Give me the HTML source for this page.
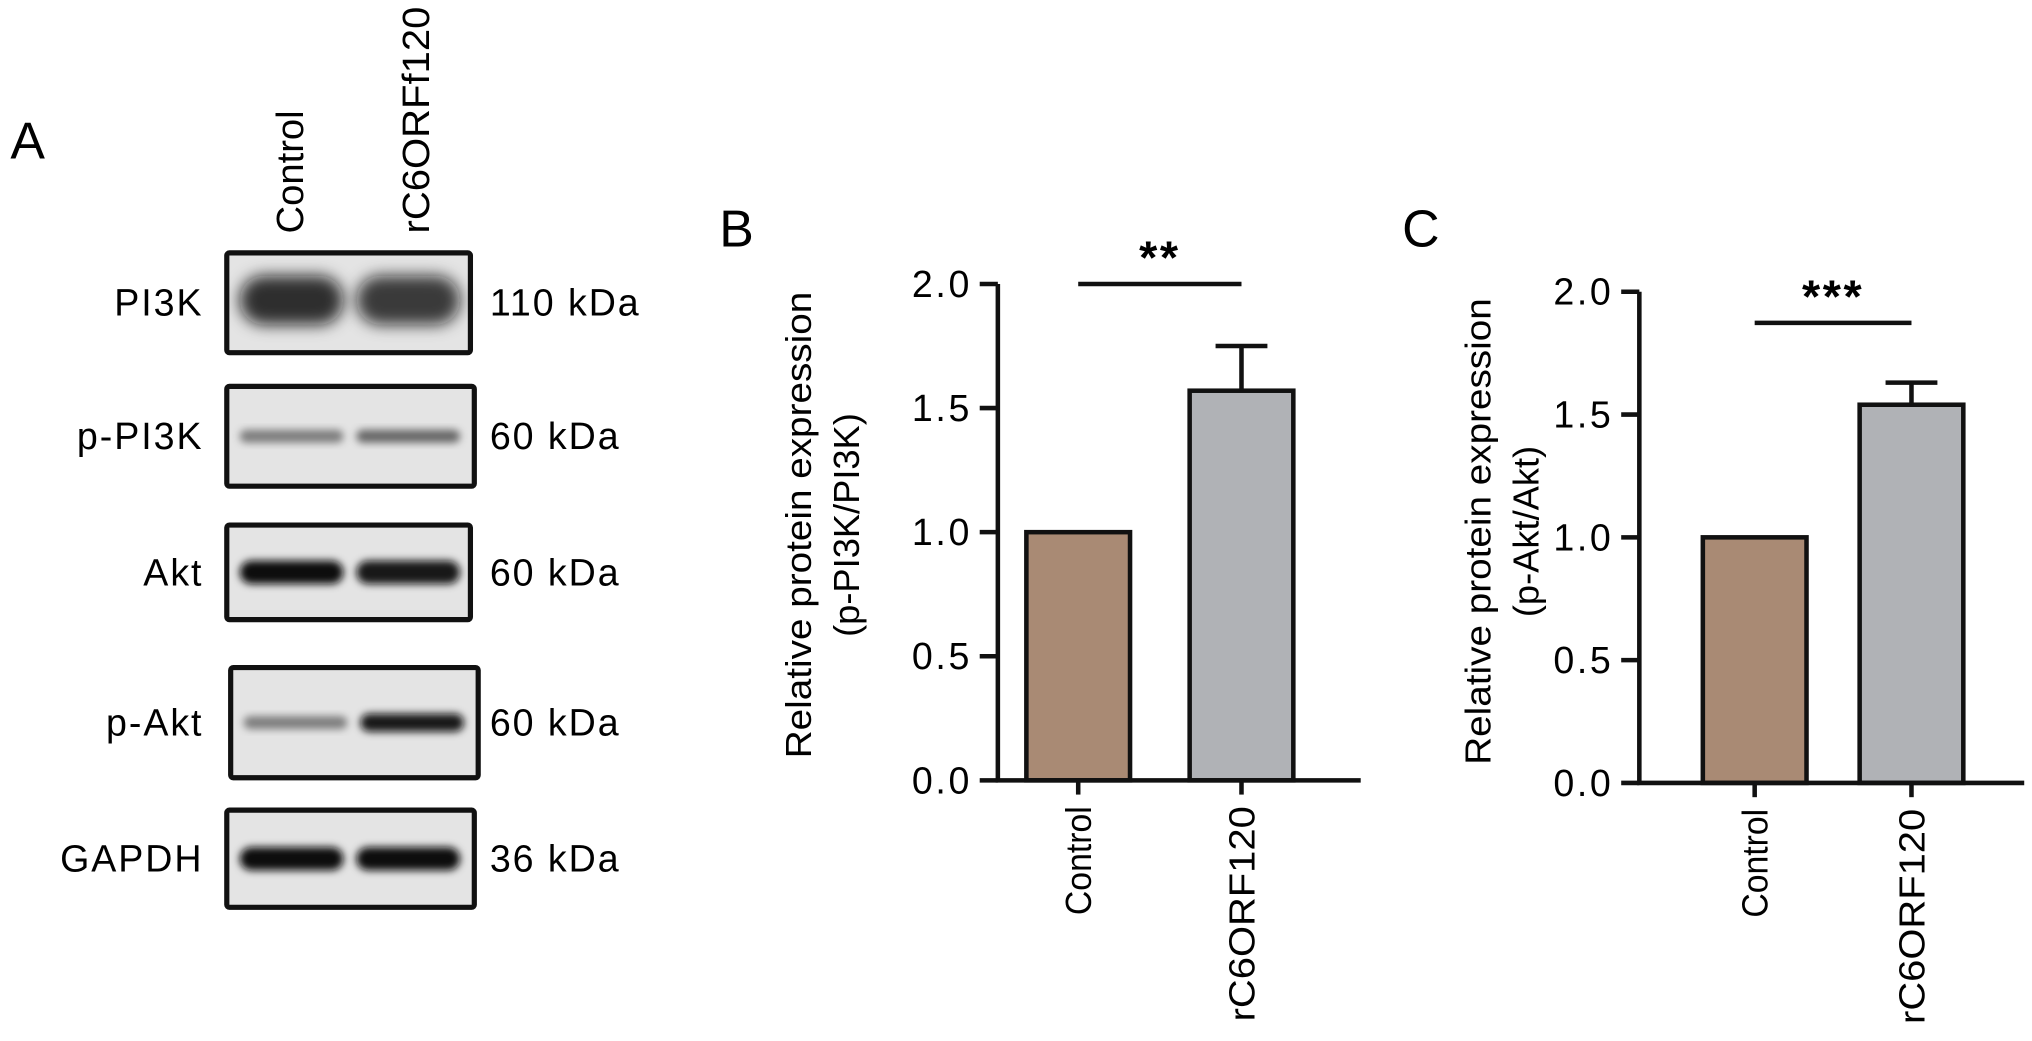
<!DOCTYPE html>
<html><head><meta charset="utf-8"><style>
html,body{margin:0;padding:0;background:#fff;}
svg{display:block;font-family:"Liberation Sans",Arial,sans-serif;}
</style></head><body>
<svg id="fig" width="2032" height="1041" viewBox="0 0 1568 803" xmlns="http://www.w3.org/2000/svg">
<defs>
<filter id="blur3" x="-20%" y="-50%" width="140%" height="200%"><feGaussianBlur stdDeviation="3"/></filter>
<filter id="blur6" x="-20%" y="-80%" width="140%" height="260%"><feGaussianBlur stdDeviation="6"/></filter>
</defs>
<g id="panelA">
<text x="8" y="122" font-size="40">A</text>
<text transform="translate(234,180) rotate(-90)" font-size="29" textLength="95" lengthAdjust="spacingAndGlyphs">Control</text>
<text transform="translate(331,180) rotate(-90)" font-size="29" textLength="175" lengthAdjust="spacingAndGlyphs">rC6ORFf120</text>
</g>
<g id="charts"></g>
</svg>
<script>
// Blot rows
const blotNames=["PI3K","p-PI3K","Akt","p-Akt","GAPDH"];
const blotKda=["110 kDa","60 kDa","60 kDa","60 kDa","36 kDa"];
const blotBoxes=[[175,195,188,77],[175,298,191,77],[175,405,188,73],[178,515,191,85],[175,625,191,75]];
const bandDark=[[0.85,0.8],[0.45,0.55],[1,0.95],[0.45,0.95],[1,1]];
const NS="http://www.w3.org/2000/svg";
function mk(t,a,p){const e=document.createElementNS(NS,t);for(const k in a)e.setAttribute(k,a[k]);p.appendChild(e);return e;}
const A=document.getElementById('panelA');
blotNames.forEach((n,i)=>{
 const [x,y,w,h]=blotBoxes[i];const cy=y+h/2;
 const bg=mk('rect',{x:x,y:y,width:w,height:h,fill:'#e4e4e4'},A);
 
 
 [[x+10,x+90],[x+100,x+180]].forEach((l,j)=>{
  const d=bandDark[i][j];
  const bh=i===0?38:(i===2||i===4)?18:(i===1?10:(d>0.5?14:10));
  const b=mk('rect',{x:l[0],y:cy-bh/2-(i===0?2:0),width:l[1]-l[0],height:bh,rx:bh/2,fill:`rgba(10,10,10,${d})`,filter:i===0?'url(#blur6)':'url(#blur3)'},A);
  
  
 });
 const r=mk('rect',{x:x,y:y,width:w,height:h,fill:'none',stroke:'#111',"stroke-width":4,rx:2},A);
 
 
 const t=mk('text',{x:157,y:cy+10,"font-size":29,"letter-spacing":1.5,"text-anchor":"end"},A);t.textContent=n;
 
 
 const k=mk('text',{x:378,y:cy+10,"font-size":29,"letter-spacing":1.5},A);k.textContent=blotKda[i];
 
 
});

// Chart data
const categories=["Control","rC6ORF120"];
const valuesB=[1.0,1.57];
const errorsB=[0,0.18];
const valuesC=[1.0,1.54];
const errorsC=[0,0.09];
const yTicks=[0,0.5,1.0,1.5,2.0];
const yTickLabels=["0.0","0.5","1.0","1.5","2.0"];
const barColors=["#a98a74","#b0b2b6"];

function chart(cfg){
 const g=mk('g',{},document.getElementById('charts'));
 
 
 const y=v=>cfg.y0-(cfg.y0-cfg.y2)*v/2;
 const L=mk('text',{x:cfg.lx,y:190,"font-size":40},g);L.textContent=cfg.label;
 
 
 cfg.vals.forEach((v,i)=>{
  const cx=cfg.cx[i];
  const b=mk('rect',{x:cx-40,y:y(v),width:80,height:cfg.y0-y(v),fill:barColors[i],stroke:'#111',"stroke-width":3.5},g);
  
  
  if(cfg.err[i]>0){
   const e=mk('path',{d:`M${cx},${y(v)} V${y(v+cfg.err[i])} M${cx-20},${y(v+cfg.err[i])} H${cx+20}`,stroke:'#111',"stroke-width":3.5,fill:'none'},g);
   
   
  }
  mk('line',{x1:cx,y1:cfg.y0,x2:cx,y2:cfg.y0+11,stroke:'#111',"stroke-width":3.5},g);
  const t=mk('text',{transform:`translate(${cx+10},${cfg.y0+20}) rotate(-90)`,"font-size":28,"text-anchor":"end",textLength:i===0?84:166,lengthAdjust:"spacingAndGlyphs"},g);
  t.textContent=categories[i];
  
  
 });
 const ax=mk('path',{d:`M${cfg.ax},${cfg.y2} V${cfg.y0} H${cfg.xend}`,stroke:'#111',"stroke-width":3.5,fill:'none'},g);
 
 
 yTicks.forEach((v,i)=>{
  mk('line',{x1:cfg.ax-14,y1:y(v),x2:cfg.ax,y2:y(v),stroke:'#111',"stroke-width":3.5},g);
  const t=mk('text',{x:cfg.ax-20,y:y(v)+10,"font-size":29,"letter-spacing":2,"text-anchor":"end"},g);
  t.textContent=yTickLabels[i];
  
  
 });
 const t1=mk('text',{transform:`translate(${cfg.tx},${cfg.tyc}) rotate(-90)`,"font-size":28,"text-anchor":"middle",textLength:360,lengthAdjust:"spacingAndGlyphs"},g);
 t1.textContent="Relative protein expression";
 
 
 const t2=mk('text',{transform:`translate(${cfg.tx+37},${cfg.tyc}) rotate(-90)`,"font-size":28,"text-anchor":"middle"},g);
 t2.textContent=cfg.sub;
 
 
 const s=mk('line',{x1:cfg.cx[0],y1:cfg.sigY,x2:cfg.cx[1],y2:cfg.sigY,stroke:'#111',"stroke-width":3.5},g);
 
 
 const st=mk('text',{x:(cfg.cx[0]+cfg.cx[1])/2,y:cfg.sigY-8,"font-size":36,"font-weight":"bold","letter-spacing":2,"text-anchor":"middle"},g);
 st.textContent=cfg.stars;
 
 
}
chart({name:'chart-b',label:'B',lx:555,ax:770,y0:602,y2:219,xend:1050,cx:[832,958],vals:valuesB,err:errorsB,tx:626,tyc:405,sub:'(p-PI3K/PI3K)',sigY:219,stars:'**'});
chart({name:'chart-c',label:'C',lx:1082,ax:1265,y0:604,y2:225,xend:1562,cx:[1354,1475],vals:valuesC,err:errorsC,tx:1150,tyc:410,sub:'(p-Akt/Akt)',sigY:249,stars:'***'});
</script>
</body></html>
